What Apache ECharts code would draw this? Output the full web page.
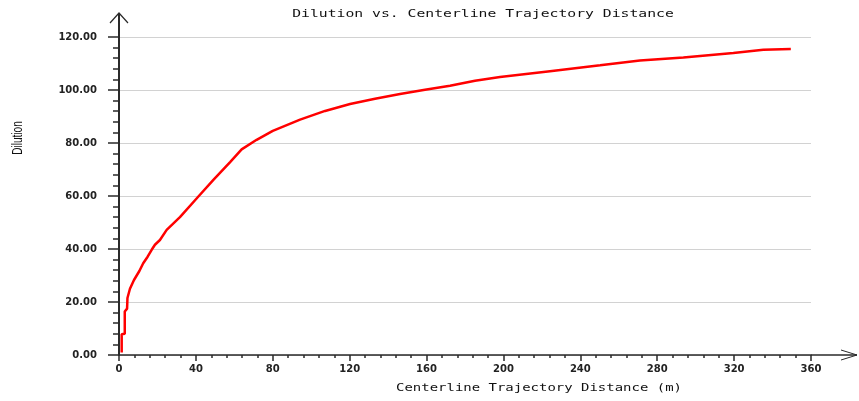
<!DOCTYPE html>
<html>
<head>
<meta charset="utf-8">
<style>
  html, body { margin: 0; padding: 0; background: #ffffff; }
  #chart { width: 859px; height: 401px; }
</style>
<script src="https://cdn.jsdelivr.net/npm/echarts@6/dist/echarts.min.js"></script>
</head>
<body>
<div id="chart"></div>
<script>
// Centerline trajectory distance (m) and the dilution reached at that distance
const distance = [1.4, 1.4, 3.0, 3.0, 4.2, 4.4, 5.7, 7.8, 10.6, 12.6, 14.9, 17.0, 18.7, 21.3, 24.8,
  31.7, 41.3, 49.1, 57.8, 63.8, 71.6, 80.0, 94.2, 107.2, 120.2, 133.2, 146.2, 159.2, 172.2,
  185.2, 198.2, 224.2, 250.3, 271.0, 293.6, 319.6, 335.2, 349.5];
const dilution = [0.9, 7.8, 8.0, 16.4, 17.5, 21.5, 25.0, 28.3, 31.7, 34.6, 37.1, 39.7, 41.6, 43.4, 47.2,
  52.0, 59.8, 66.1, 72.8, 77.6, 81.2, 84.6, 88.8, 92.1, 94.7, 96.7, 98.5, 100.1, 101.6,
  103.5, 104.9, 107.1, 109.3, 111.1, 112.3, 114.0, 115.2, 115.5];

const titleText = 'Dilution vs. Centerline Trajectory Distance';
const xAxisTitle = 'Centerline Trajectory Distance (m)';
const yAxisTitle = 'Dilution';

const xRange = [0, 360, 40];
const yRange = [0, 120, 20];

const points = distance.map((d, i) => [d, dilution[i]]);

const chart = echarts.init(document.getElementById('chart'), null, { renderer: 'canvas' });

const labelFont = { color: '#222', fontFamily: 'DejaVu Sans', fontWeight: 'bold', fontSize: 10 };
const axisInk = '#2a2a2a';

chart.setOption({
  animation: false,
  backgroundColor: '#ffffff',
  grid: { left: 119, right: 48, top: 37, bottom: 46 },
  xAxis: {
    type: 'value',
    min: xRange[0], max: xRange[1], interval: xRange[2],
    axisLine: { show: true, lineStyle: { color: axisInk, width: 1.5 } },
    axisTick: { show: true, length: 6, lineStyle: { color: axisInk, width: 1.5 } },
    minorTick: { show: true, splitNumber: 5, length: 3, lineStyle: { color: axisInk, width: 1.5 } },
    splitLine: { show: false },
    axisLabel: Object.assign({ margin: 9 }, labelFont)
  },
  yAxis: {
    type: 'value',
    min: yRange[0], max: yRange[1], interval: yRange[2],
    axisLine: { show: true, lineStyle: { color: axisInk, width: 2 } },
    axisTick: { show: true, length: 11, lineStyle: { color: axisInk, width: 1.5 } },
    minorTick: { show: true, splitNumber: 5, length: 6, lineStyle: { color: axisInk, width: 1.5 } },
    splitLine: { show: true, lineStyle: { color: '#d2d2d2', width: 1 } },
    axisLabel: Object.assign({ margin: 22, formatter: v => v.toFixed(2) }, labelFont)
  },
  series: [{
    type: 'line',
    data: points,
    showSymbol: false,
    smooth: false,
    lineStyle: { color: '#ff0000', width: 2.5 },
    z: 3
  }]
});

// Title, axis names and the arrow-tipped axis extensions
const origin = chart.convertToPixel({ xAxisIndex: 0, yAxisIndex: 0 }, [xRange[0], yRange[0]]);
const xEnd = chart.convertToPixel({ xAxisIndex: 0, yAxisIndex: 0 }, [xRange[1], yRange[0]]);
const yEnd = chart.convertToPixel({ xAxisIndex: 0, yAxisIndex: 0 }, [xRange[0], yRange[1]]);
const xTip = [xEnd[0] + 46, xEnd[1]];
const yTip = [yEnd[0], yEnd[1] - 24];
const wing = 9;

chart.setOption({
  graphic: [
    {
      type: 'text', x: 483, y: 14, scaleX: 1.34,
      style: { text: titleText, fontFamily: 'DejaVu Sans Mono', fontSize: 11, fill: '#111',
        align: 'center', verticalAlign: 'middle' }
    },
    {
      type: 'text', x: 539, y: 388, scaleX: 1.27,
      style: { text: xAxisTitle, fontFamily: 'DejaVu Sans Mono', fontSize: 11, fill: '#111',
        align: 'center', verticalAlign: 'middle' }
    },
    {
      type: 'text', x: 18, y: 138, rotation: Math.PI / 2, scaleX: 0.72,
      style: { text: yAxisTitle, fontFamily: 'Liberation Sans', fontSize: 14, fill: '#111',
        align: 'center', verticalAlign: 'middle' }
    },
    {
      type: 'polyline',
      shape: { points: [[xEnd[0], xEnd[1]], xTip] },
      style: { stroke: axisInk, lineWidth: 1.5, fill: null }
    },
    {
      type: 'polyline',
      shape: { points: [[xTip[0] - 16, xTip[1] - 5], xTip, [xTip[0] - 16, xTip[1] + 5]] },
      style: { stroke: axisInk, lineWidth: 1, fill: null }
    },
    {
      type: 'polyline',
      shape: { points: [[yEnd[0], yEnd[1]], yTip] },
      style: { stroke: axisInk, lineWidth: 2, fill: null }
    },
    {
      type: 'polyline',
      shape: { points: [[yTip[0] - wing, yTip[1] + 10], yTip, [yTip[0] + wing, yTip[1] + 10]] },
      style: { stroke: axisInk, lineWidth: 1.2, fill: null }
    }
  ]
});
</script>
</body>
</html>
